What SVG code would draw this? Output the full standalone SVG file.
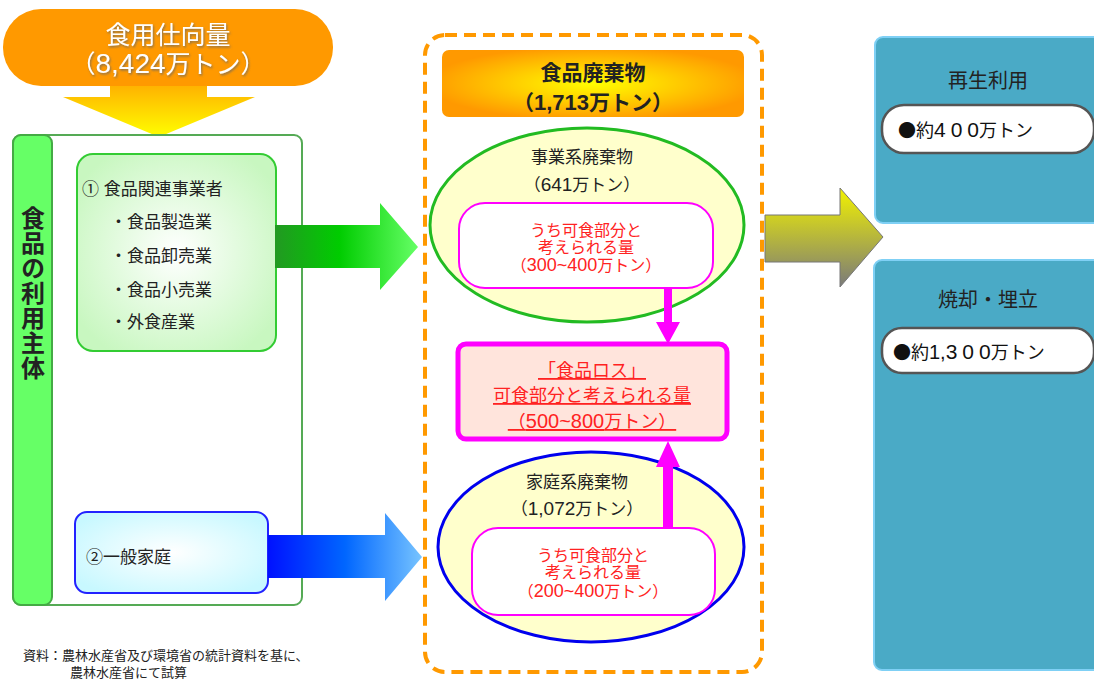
<svg xmlns="http://www.w3.org/2000/svg" width="1094" height="681" viewBox="0 0 1094 681">
<defs>
<style>
text{font-family:"Liberation Sans","Noto Sans CJK JP",sans-serif;}
.cjk{font-family:"Noto Sans CJK JP",sans-serif;}
.blk{fill:#222;font-size:17px;}
.red{fill:#ff2222;font-size:16px;text-anchor:middle;}
.mid{text-anchor:middle;}
.teal{fill:#4aaac6;stroke:#7fd0f5;stroke-width:2;}
.pill{fill:#fff;stroke:#555;stroke-width:2.5;}
.pink{fill:#fff;stroke:#ff00ff;stroke-width:2;}
.mag{fill:#ff00ff;}
</style>
<linearGradient id="gTop" x1="0" y1="0" x2="0" y2="1"><stop offset="0" stop-color="#ffaa00"/><stop offset="1" stop-color="#ffff00"/></linearGradient>
<radialGradient id="gG" cx="0.5" cy="0.5" r="0.6"><stop offset="0" stop-color="#ffffff"/><stop offset="1" stop-color="#c8f7c0"/></radialGradient>
<radialGradient id="gB" cx="0.5" cy="0.5" r="0.6"><stop offset="0" stop-color="#ffffff"/><stop offset="1" stop-color="#c8f8ff"/></radialGradient>
<linearGradient id="gGA" x1="0" y1="0" x2="1" y2="0"><stop offset="0" stop-color="#229922"/><stop offset="0.45" stop-color="#00cc00"/><stop offset="1" stop-color="#66ff66"/></linearGradient>
<linearGradient id="gBA" x1="0" y1="0" x2="1" y2="0"><stop offset="0" stop-color="#0011ff"/><stop offset="0.5" stop-color="#0066ff"/><stop offset="1" stop-color="#77c4ff"/></linearGradient>
<linearGradient id="gYA" x1="0" y1="0" x2="0" y2="1"><stop offset="0" stop-color="#f2f200"/><stop offset="1" stop-color="#7a7a7a"/></linearGradient>
<radialGradient id="gHd" cx="0.5" cy="0.5" r="0.55"><stop offset="0" stop-color="#ffff00"/><stop offset="1" stop-color="#ff9900"/></radialGradient>
<filter id="sh" x="-10%" y="-20%" width="120%" height="140%"><feDropShadow dx="1" dy="1.5" stdDeviation="1" flood-color="#666" flood-opacity="0.8"/></filter>
</defs>
<rect width="1094" height="681" fill="#fff"/>

<g id="supply">
<polygon points="110,80 207,80 207,97 255,97 159,137 63,97 110,97" fill="url(#gTop)"/>
<rect x="3" y="9" width="330" height="77" rx="38" fill="#ff9900"/>
<text x="168" y="44" class="mid" font-size="25" fill="#fff" filter="url(#sh)">食用仕向量</text>
<text x="168" y="73" class="mid" font-size="25" fill="#fff" filter="url(#sh)">（<tspan font-size="28">8,424</tspan>万トン）</text>
</g>

<g id="users">
<rect x="13" y="135" width="289" height="470" rx="8" fill="#fff" stroke="#55aa55" stroke-width="2"/>
<rect x="13" y="135" width="39" height="470" rx="8" fill="#66ff66" stroke="#44aa44" stroke-width="2"/>
<text x="33" y="206" class="cjk" writing-mode="vertical-rl" font-size="24" font-weight="bold" letter-spacing="1" fill="#222">食品の利用主体</text>
</g>

<g id="business">
<rect x="77" y="154" width="199" height="197" rx="16" fill="url(#gG)" stroke="#33cc33" stroke-width="2"/>
<text x="82" y="195" class="blk">① 食品関連事業者</text>
<text x="110" y="228" class="blk">・食品製造業</text>
<text x="110" y="262" class="blk">・食品卸売業</text>
<text x="110" y="296" class="blk">・食品小売業</text>
<text x="110" y="328" class="blk">・外食産業</text>
</g>

<g id="household">
<rect x="75" y="512" width="193" height="81" rx="12" fill="url(#gB)" stroke="#2222ff" stroke-width="2"/>
<text x="86" y="563" class="blk">②一般家庭</text>
</g>

<g id="foodwaste">
<rect x="425" y="35" width="337" height="637" rx="20" fill="none" stroke="#ff9900" stroke-width="4" stroke-dasharray="12,7"/>
<rect x="442" y="50" width="302" height="67" rx="7" fill="url(#gHd)"/>
<text x="593" y="80" class="mid" font-size="21" font-weight="bold" fill="#222">食品廃棄物</text>
<text x="593" y="110" class="mid" font-size="21" font-weight="bold" fill="#222">（<tspan font-size="22">1,713</tspan>万トン）</text>
</g>

<g id="bizwaste">
<ellipse cx="587" cy="225" rx="157" ry="97" fill="#ffffcc" stroke="#22bb22" stroke-width="3"/>
<text x="582" y="163" class="blk mid">事業系廃棄物</text>
<text x="582" y="191" class="blk mid">（<tspan font-size="19">641</tspan>万トン）</text>
<rect x="459" y="203" width="254" height="85" rx="26" class="pink"/>
<text x="586" y="236" class="red">うち可食部分と</text>
<text x="586" y="253" class="red">考えられる量</text>
<text x="586" y="271" class="red">（<tspan font-size="18">300~400</tspan>万トン）</text>
</g>

<g id="foodloss">
<rect x="458" y="344" width="269" height="95" rx="8" fill="#ffe4dc" stroke="#ff00ff" stroke-width="5"/>
<text x="592" y="377" class="mid" font-size="18" fill="#ff2222" text-decoration="underline">「食品ロス」</text>
<text x="592" y="402" class="mid" font-size="18" fill="#ff2222" text-decoration="underline">可食部分と考えられる量</text>
<text x="592" y="428" class="mid" font-size="18" fill="#ff2222" text-decoration="underline">（<tspan font-size="20">500~800</tspan>万トン）</text>
</g>

<g id="homewaste">
<ellipse cx="591" cy="547" rx="153" ry="95" fill="#ffffcc" stroke="#0000ee" stroke-width="3"/>
<text x="577" y="488" class="blk mid">家庭系廃棄物</text>
<text x="577" y="515" class="blk mid">（<tspan font-size="19">1,072</tspan>万トン）</text>
<rect x="472" y="528" width="243" height="87" rx="26" class="pink"/>
<text x="593" y="561" class="red">うち可食部分と</text>
<text x="593" y="578" class="red">考えられる量</text>
<text x="593" y="597" class="red">（<tspan font-size="18">200~400</tspan>万トン）</text>
</g>

<g id="recycle">
<rect x="875" y="37" width="230" height="186" rx="8" class="teal"/>
<text x="988" y="88" class="mid" font-size="20" fill="#222">再生利用</text>
<rect x="882" y="105" width="212" height="48" rx="22" class="pill"/>
<text x="898" y="137" font-size="18" fill="#111"><tspan class="cjk">●</tspan>約<tspan font-size="21" letter-spacing="5">40</tspan><tspan font-size="21">0</tspan>万トン</text>
</g>

<g id="incinerate">
<rect x="874" y="260" width="230" height="410" rx="8" class="teal"/>
<text x="988" y="307" class="mid" font-size="20" fill="#222">焼却・埋立</text>
<rect x="882" y="328" width="212" height="45" rx="20" class="pill"/>
<text x="893" y="359" font-size="18" fill="#111"><tspan class="cjk">●</tspan>約<tspan font-size="20">1,</tspan><tspan font-size="21" letter-spacing="5">30</tspan><tspan font-size="21">0</tspan>万トン</text>
</g>

<g id="connectors">
<polygon points="275,225 380,225 380,203 418,247 380,290 380,268 275,268" fill="url(#gGA)"/>
<polygon points="268,535 385,535 385,513 422,557 385,601 385,578 268,578" fill="url(#gBA)"/>
<polygon points="765,215 840,215 840,188 883,237 840,287 840,262 765,262" fill="url(#gYA)" stroke="#777" stroke-width="1"/>
<polygon points="664,288 672,288 672,322 680,322 668,344 656,322 664,322" class="mag"/>
<polygon points="663,528 673,528 673,467 680,467 668,441 656,467 663,467" class="mag"/>
</g>

<g id="note">
<text x="23" y="660" font-size="13" fill="#222">資料：農林水産省及び環境省の統計資料を基に、</text>
<text x="70" y="677" font-size="13" fill="#222">農林水産省にて試算</text>
</g>
</svg>
